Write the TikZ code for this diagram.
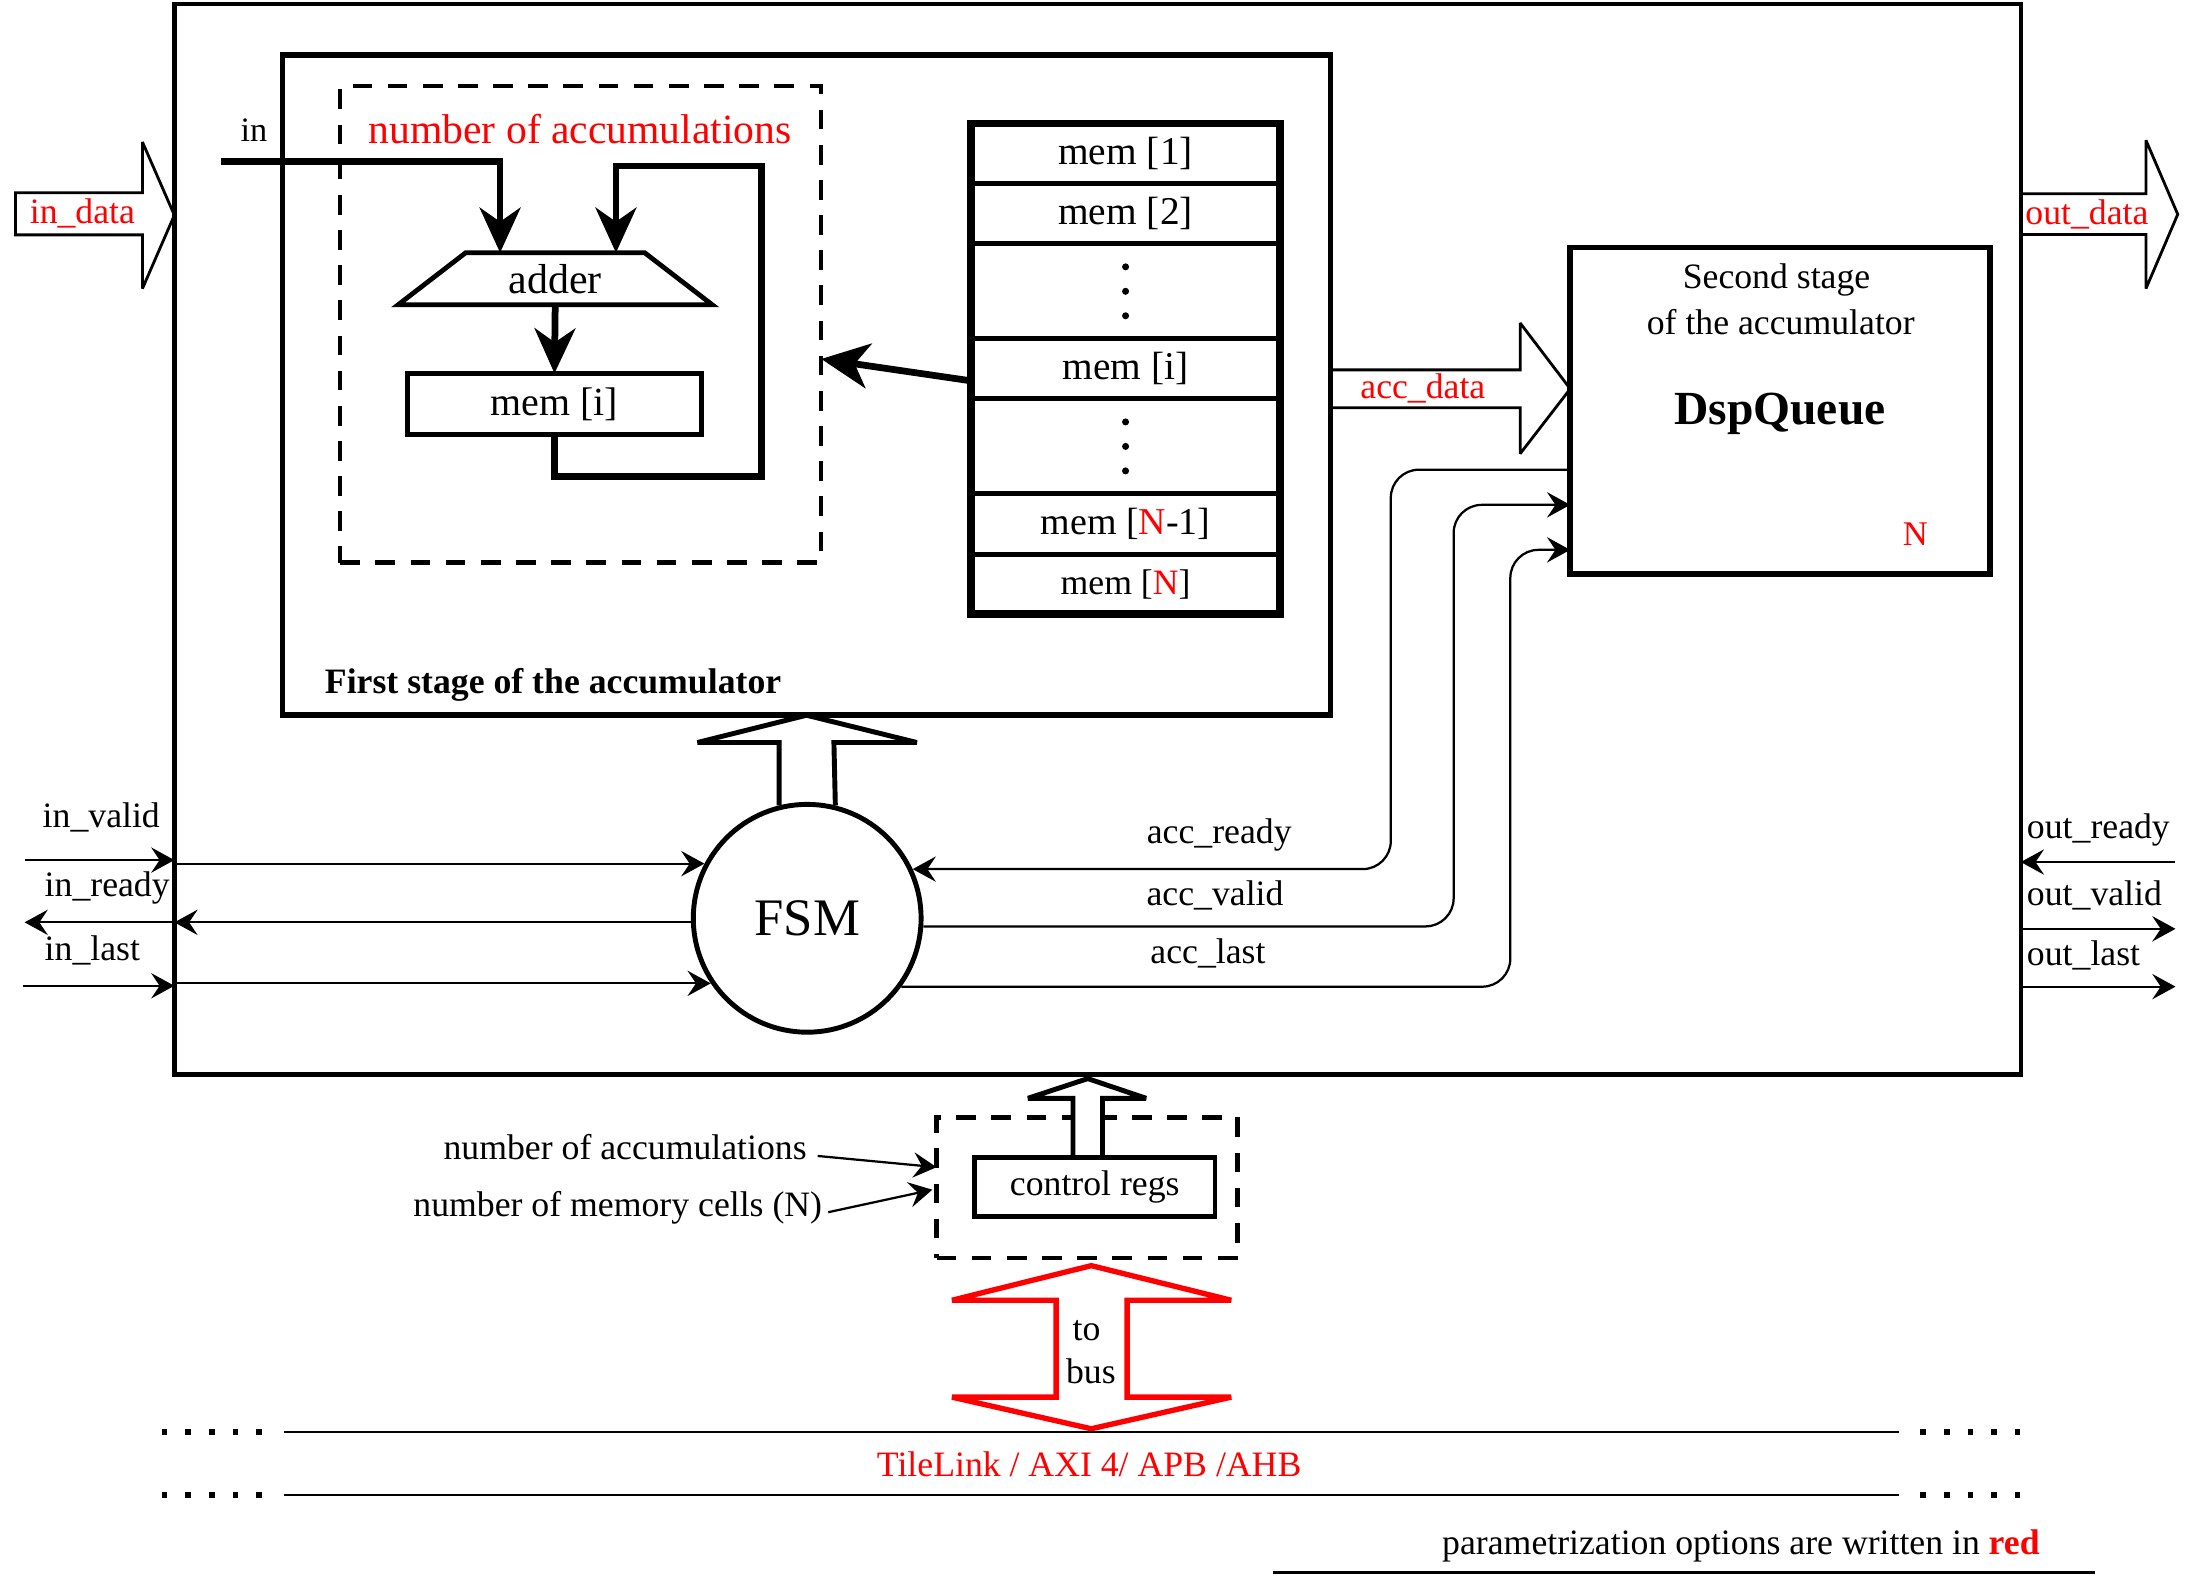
\documentclass[tikz,border=0pt]{standalone}
\usepackage{fontspec}
\setmainfont{Liberation Serif}
\usepackage{tikz}
\usetikzlibrary{arrows.meta,calc,positioning,shapes.geometric}
\definecolor{ink}{HTML}{000000}
\definecolor{param}{HTML}{FF0000}
\newcommand{\fsz}[1]{\fontsize{#1}{#1}\selectfont}
\tikzset{
  outerbox/.style={draw=ink, line width=1.6pt, inner sep=0pt, outer sep=0pt, anchor=north west},
  stagebox/.style={draw=ink, line width=2pt, inner sep=0pt, outer sep=0pt, anchor=north west},
  dashbox/.style={draw=ink, line width=1.5pt, dash pattern=on 7pt off 5.5pt, inner sep=0pt, outer sep=0pt, anchor=north west},
  memrow/.style={draw=ink, line width=1.8pt, minimum width=110pt, minimum height=21.4pt, inner sep=0pt, outer sep=0pt, font=\fsz{14}},
  gaprow/.style={memrow, minimum height=33.75pt},
  regbox/.style={draw=ink, line width=1.75pt, inner sep=0pt, outer sep=0pt},
  sig/.style={draw=ink, line width=0.8pt, -{Stealth[length=8.25pt, width=9pt, inset=3pt]}},
  fatarr/.style={draw=ink, line width=2.4pt, -{Stealth[length=16pt, width=14.5pt, inset=5pt]}},
  hollow/.style={draw=ink, line width=1pt, miter limit=2},
  hollowk/.style={draw=ink, line width=1.75pt, miter limit=2},
  lab/.style={font=\fsz{12.7}, inner sep=0pt},
  labr/.style={lab, text=param}
}

\begin{document}
\begin{tikzpicture}[x=0.5pt, y=-0.5pt]
  \useasboundingbox (0,0) rectangle (1568,1124.3);

  % accumulator block
  \node[outerbox, minimum width=656.5pt, minimum height=380.6pt] (outer) at (124,3) {};

  % first stage
  \node[stagebox, minimum width=372.5pt, minimum height=234.8pt] (stage) at (201,39) {};
  \node[lab, font=\fsz{12.7}\bfseries] (stagelab) at (393.3,487.3) {First stage of the accumulator};
  \node[dashbox, minimum width=171pt, minimum height=169.35pt] (accbox) at (242,61.3) {};
  \node[labr, font=\fsz{14.8}] (accnum) at (412.6,92) {number of accumulations};

  \node[trapezium, trapezium left angle=40, trapezium right angle=40, trapezium stretches=true,
        draw=ink, line width=1.7pt, minimum width=111.8pt, minimum height=18.5pt,
        inner sep=0pt, outer sep=0pt, font=\fsz{14.9}] (adder) at (394.8,198.2) {adder};
  \node[regbox, line width=1.7pt, minimum width=104.7pt, minimum height=21.75pt, font=\fsz{14.2}] (accmem) at (394.3,287.25) {mem [i]};

  \coordinate (inpt) at (157,114.8);
  \node[lab, font=\fsz{12.2}] (inlab) at (180.6,92.6) {in};
  \draw[fatarr] (inpt) -| ([xshift=-19.6pt]adder.north);

  % feedback loop
  \coordinate (fbk) at (541.5,338.6);
  \coordinate (fbt) at (541.5,118);
  \draw[fatarr] (accmem.south) |- (fbk) -- (fbt) -| ([xshift=21.6pt]adder.north);
  \draw[fatarr] (adder.south) -- (accmem.north);

  % memory cells
  \node[memrow, anchor=north] (m1) at (800.4,87.8) {mem [1]};
  \node[memrow, below=0pt of m1] (m2) {mem [2]};
  \node[gaprow, below=0pt of m2] (g1) {};
  \node[memrow, below=0pt of g1] (mi) {mem [i]};
  \node[gaprow, below=0pt of mi] (g2) {};
  \node[memrow, below=0pt of g2, font=\fsz{13.5}] (mn1) {mem [{\color{param}N}-1]};
  \node[memrow, below=0pt of mn1, font=\fsz{12.7}] (mn) {mem [{\color{param}N}]};
  \draw[ink, line width=2.8pt] (m1.north west) rectangle (mn.south east);
  \foreach \g in {g1,g2}
    \foreach \dy in {-8.7,0,8.7}
      \fill[ink] ([yshift=\dy*1pt]\g.center) circle[radius=1.25pt];

  \draw[fatarr, -{Stealth[length=17pt, width=16pt, inset=5pt]}] ([yshift=-4.25pt]mi.west) -- ([yshift=-12.3pt]accbox.east);

  % second stage
  \node[stagebox, minimum width=149.35pt, minimum height=116.15pt] (dsp) at (1116.6,176) {};
  \node[lab] (dsp1) at (1263.3,199) {Second stage};
  \node[lab] (dsp2) at (1266.3,228.7) {of the accumulator};
  \node[lab, font=\fsz{16.9}\bfseries] (dspname) at (1265.7,294.4) {DspQueue};
  \node[labr, font=\fsz{12.3}] (dspn) at (1362,380) {N};

  % data paths (hollow arrows)
  \draw[hollow] (11,137) -- (101.3,137) -- (101.3,101) -- (outer.west |- 0,153) -- (101.3,205.2) -- (101.3,167) -- (11,167) -- cycle;
  \node[labr] (indata) at (58.6,152) {in\_data};
  \draw[hollow] (outer.east |- 0,137.8) -- (1526,137.8) -- (1526,99.7) -- (1548.6,152.4) -- (1526,205.2) -- (1526,166.7) -- (outer.east |- 0,166.7);
  \node[labr] (outdata) at (1484,152.4) {out\_data};
  \draw[hollow] (stage.east |- 0,263) -- (1081,263) -- (1081,229.7) -- (dsp.west |- 0,276.5) -- (1081,322.6) -- (1081,290) -- (stage.east |- 0,290);
  \node[labr] (accdata) at (1011.8,276.5) {acc\_data};

  % control
  \node[circle, draw=ink, line width=1.75pt, minimum size=81pt, inner sep=0pt, font=\fsz{18.75}] (fsm) at (574,653) {FSM};
  \draw[hollowk] (fsm.104) -- (554,528) -- (496,528) -- (stage.south) -- (652,528) -- (593,528) -- (fsm.76);

  \coordinate (ivl) at (17.5,611.6);
  \coordinate (ill) at (16,701);
  \draw[sig] (ivl) -- (ivl -| outer.west);
  \draw[sig] (fsm.152.6 -| outer.west) -- (fsm.152.6);
  \draw[sig] (fsm.182.5) -- (fsm.182.5 -| outer.west);
  \draw[sig] (fsm.182.5 -| outer.west) -- (fsm.182.5 -| ivl);
  \draw[sig] (ill) -- (ill -| outer.west);
  \draw[sig] (fsm.214.7 -| outer.west) -- (fsm.214.7);
  \node[lab, anchor=west] (ivlab) at (30,581) {in\_valid};
  \node[lab, anchor=west] (irlab) at (31.4,631.6) {in\_ready};
  \node[lab, anchor=west] (illab) at (31.4,675.6) {in\_last};

  \coordinate (rdyc) at (fsm.25.9 -| 989,0);
  \draw[sig, rounded corners=10pt] (dsp.west |- 0,334) -| (rdyc) -- (fsm.25.9);
  \draw[sig, rounded corners=10pt] (fsm.356.2) -| (1033.7,359) -- (dsp.west |- 0,359);
  \draw[sig, rounded corners=10pt] (fsm.324.4) -| (1074,391) -- (dsp.west |- 0,391);
  \node[lab] (ardy) at (867,594) {acc\_ready};
  \node[lab] (avld) at (864,636.5) {acc\_valid};
  \node[lab] (alst) at (859,678) {acc\_last};

  \coordinate (ordy) at (1546.5,613);
  \coordinate (ovld) at (1547,660.5);
  \coordinate (olst) at (1547,701.6);
  \draw[sig] (ordy) -- (ordy -| outer.east);
  \draw[sig] (ovld -| outer.east) -- (ovld);
  \draw[sig] (olst -| outer.east) -- (olst);
  \node[lab, anchor=west] (ordylab) at (1441,590.5) {out\_ready};
  \node[lab, anchor=west] (ovldlab) at (1441,636.5) {out\_valid};
  \node[lab, anchor=west] (olstlab) at (1441,679.6) {out\_last};

  % control registers
  \node[dashbox, minimum width=107pt, minimum height=50pt] (cfg) at (666,794.6) {};
  \draw[hollowk, fill=white] (763,823) -- (763,781) -- (731,781) -- (773.5,767) -- (815,781) -- (784,781) -- (784,823);
  \node[regbox, minimum width=85.5pt, minimum height=21pt, font=\fsz{12.7}] (ctrl) at (778.5,844) {control regs};
  \node[lab, anchor=east] (nacc) at (574,816) {number of accumulations};
  \node[lab, anchor=east] (nmem) at (585,859) {number of memory cells (N)};
  \draw[sig] ([xshift=3.7pt,yshift=-3pt]nacc.east) -- ([yshift=7.3pt]cfg.west);
  \draw[sig] ([xshift=2pt,yshift=-1.5pt]nmem.east) -- ([xshift=-1.5pt,yshift=-0.7pt]cfg.west);

  % bus
  \draw[draw=param, line width=1.9pt, miter limit=2] (776,900) -- (875.5,924.6) -- (801.5,924.6) -- (801.5,993.5) -- (875.5,993.5) -- (776,1016)
    -- (677,993.5) -- (751,993.5) -- (751,924.6) -- (677,924.6) -- cycle;
  \node[lab] (tobus1) at (772.6,946) {to};
  \node[lab] (tobus2) at (775.7,975) {bus};
  \foreach \y in {1018.5,1063} {
    \draw[ink, line width=0.8pt] (202,\y) -- (1350.7,\y);
    \draw[ink, line width=2pt, dash pattern=on 2pt off 6.4pt] (115,\y) -- (187,\y);
    \draw[ink, line width=2pt, dash pattern=on 2pt off 6.4pt] (1365.5,\y) -- (1437.5,\y);
  }
  \node[labr] (buslab) at (774.5,1041) {TileLink / AXI 4/ APB /AHB};

  \node[lab] (note) at (1238,1099) {parametrization options are written in \textbf{\color{param}red}};
  \draw[ink, line width=1pt] (905,1118) -- (1490,1118);
\end{tikzpicture}
\end{document}
